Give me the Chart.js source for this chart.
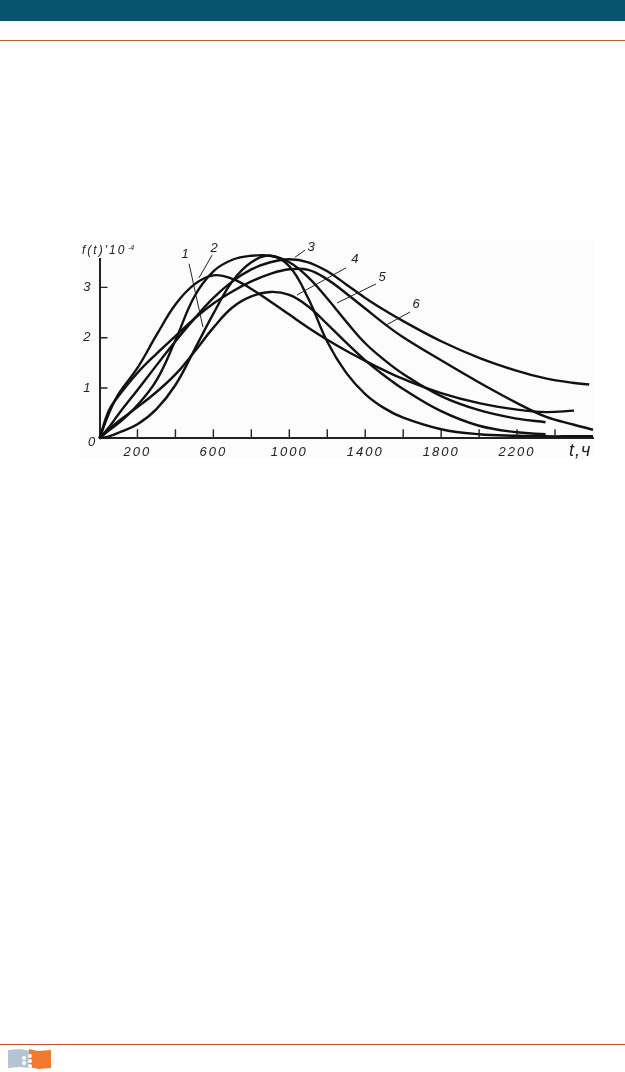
<!DOCTYPE html>
<html>
<head>
<meta charset="utf-8">
<title>f(t)</title>
<script src="https://cdn.jsdelivr.net/npm/chart.js@4/dist/chart.umd.min.js"></script>
<style>
  html, body { margin: 0; padding: 0; background: #fff; }
  #page { position: relative; width: 625px; height: 1072px; overflow: hidden; }
  #band { position: absolute; left: 0; top: 0; width: 625px; height: 21px; background: #07546f; }
  #ruleTop { position: absolute; left: 0; top: 40px; width: 625px; height: 1px; background: #b5603a; }
  #ruleBottom { position: absolute; left: 0; top: 1044px; width: 625px; height: 1px; background: #c8562a; }
  #figure { position: absolute; left: 80px; top: 240px; width: 520px; height: 225px; }
  #paper { position: absolute; left: 80px; top: 240px; width: 513px; height: 218px; background: #fcfcfc; }
  #logo { position: absolute; left: 8px; top: 1048px; }
</style>
</head>
<body>
<div id="page">
  <div id="band"></div>
  <div id="ruleTop"></div>
  <div id="paper"></div>
  <div id="figure"><canvas id="curves"></canvas></div>
  <div id="ruleBottom"></div>
  <svg id="logo" width="44" height="24" viewBox="0 0 44 24">
    <polygon points="0,2 12,1 22,3 22,20 12,19 0,20" fill="#b4c4d2"/>
    <polygon points="21,1 30,3 43,2 43,20 31,21 21,19" fill="#f07a30"/>
    <g fill="#fff">
      <circle cx="16" cy="10" r="2"/><circle cx="16" cy="15" r="2"/>
      <circle cx="22" cy="8" r="2"/><circle cx="22" cy="13" r="2"/><circle cx="22" cy="18" r="2"/>
    </g>
  </svg>
</div>

<script>
// время наработки, ч
var hours = [0, 50, 100, 200, 300, 400, 500, 600, 700, 800, 900, 1000, 1100, 1200, 1300, 1400, 1500, 1600, 1800, 2000, 2200, 2350, 2500, 2580, 2600];

// кривые, значения f(t)*10^-4
var curveEarly  = [0, .50, .88, 1.40, 2.05, 2.66, 3.06, 3.24, 3.17, 2.97, 2.72, 2.46, 2.20, 1.96, 1.74, 1.54, 1.35, 1.18, .90, .70, .57, .52, .55, null, null];
var curveNarrow = [0, .04, .11, .28, .58, 1.06, 1.76, 2.48, 3.12, 3.50, 3.63, 3.42, 2.78, 1.92, 1.30, .88, .60, .41, .18, .08, .05, .04, .04, .04, .04];
var curveTall   = [0, .16, .30, .66, 1.15, 1.95, 2.82, 3.32, 3.55, 3.63, 3.63, 3.50, 3.20, 2.78, 2.32, 1.89, 1.56, 1.28, .84, .56, .39, .32, null, null, null];
var curveHigh   = [0, .22, .48, .96, 1.45, 1.93, 2.38, 2.79, 3.12, 3.36, 3.50, 3.56, 3.50, 3.32, 3.06, 2.79, 2.55, 2.33, 1.93, 1.60, 1.34, 1.19, 1.10, 1.07, null];
var curveMiddle = [0, .56, .84, 1.30, 1.68, 2.03, 2.38, 2.68, 2.92, 3.12, 3.27, 3.36, 3.35, 3.16, 2.88, 2.58, 2.28, 2.01, 1.55, 1.11, .70, .43, .27, .19, .17];
var curveLow    = [0, .18, .34, .62, .92, 1.27, 1.72, 2.20, 2.60, 2.82, 2.91, 2.85, 2.62, 2.27, 1.90, 1.55, 1.25, .98, .54, .25, .12, .08, null, null, null];
var allCurves = [curveEarly, curveNarrow, curveTall, curveHigh, curveMiddle, curveLow];

var xLabelled = [200, 600, 1000, 1400, 1800, 2200];
var yLabelled = [1, 2, 3];

// выноски: номер кривой, начало и конец линии, место цифры (t, f)
var leaders = [
  { text: '1', from: [472, 3.47], to: [545, 2.21], at: [456, 3.66] },
  { text: '2', from: [593, 3.64], to: [524, 3.19], at: [609, 3.78] },
  { text: '3', from: [1083, 3.74], to: [1030, 3.60], at: [1120, 3.80] },
  { text: '4', from: [1299, 3.39], to: [1041, 2.85], at: [1351, 3.56] },
  { text: '5', from: [1457, 3.07], to: [1251, 2.69], at: [1494, 3.19] },
  { text: '6', from: [1636, 2.51], to: [1509, 2.25], at: [1673, 2.67] }
];

var inkColor = '#222';
var labelFont = 'italic 13px "Liberation Sans", Arial, sans-serif';

function toPoints(values) {
  var pts = [];
  for (var i = 0; i < hours.length; i++) {
    if (values[i] !== null) pts.push({ x: hours[i], y: values[i] });
  }
  return pts;
}

var figurePlugin = {
  id: 'figure',
  beforeDraw: function (chart) {
    chart.ctx.letterSpacing = '2px';
  },
  afterDraw: function (chart) {
    var ctx = chart.ctx, xs = chart.scales.x, ys = chart.scales.y;
    var x0 = xs.getPixelForValue(0), y0 = ys.getPixelForValue(0);
    ctx.save();
    ctx.strokeStyle = inkColor;

    // засечки внутрь поля графика
    ctx.lineWidth = 1.4;
    ctx.beginPath();
    xs.ticks.forEach(function (t) {
      if (t.value === 0 || t.value === 2600) return;
      var px = xs.getPixelForValue(t.value);
      ctx.moveTo(px, y0);
      ctx.lineTo(px, y0 - 9);
    });
    yLabelled.forEach(function (v) {
      var py = ys.getPixelForValue(v);
      ctx.moveTo(x0, py);
      ctx.lineTo(x0 + 8, py);
    });
    ctx.stroke();

    // выноски и номера кривых
    ctx.lineWidth = 1;
    ctx.fillStyle = inkColor;
    ctx.font = labelFont;
    ctx.textAlign = 'center';
    ctx.textBaseline = 'middle';
    leaders.forEach(function (l) {
      ctx.beginPath();
      ctx.moveTo(xs.getPixelForValue(l.from[0]), ys.getPixelForValue(l.from[1]));
      ctx.lineTo(xs.getPixelForValue(l.to[0]), ys.getPixelForValue(l.to[1]));
      ctx.stroke();
      ctx.fillText(l.text, xs.getPixelForValue(l.at[0]), ys.getPixelForValue(l.at[1]));
    });

    // подписи осей
    ctx.fillText('0', x0 - 7, y0 + 4);
    ctx.textAlign = 'left';
    ctx.font = 'italic 12px "Liberation Sans", Arial, sans-serif';
    ctx.fillText("f(t)'10", 2, 11);
    ctx.font = 'italic 7px "Liberation Sans", Arial, sans-serif';
    ctx.letterSpacing = '0px';
    ctx.fillText('-4', 48, 8);
    ctx.font = 'italic 18px "Liberation Sans", Arial, sans-serif';
    ctx.letterSpacing = '1px';
    ctx.fillText('t,ч', 489, 211);
    ctx.restore();
  }
};

new Chart(document.getElementById('curves'), {
  type: 'line',
  data: {
    datasets: allCurves.map(function (values, i) {
      return {
        label: 'curve ' + (i + 1),
        data: toPoints(values),
        borderColor: '#111',
        borderWidth: 2.4,
        pointRadius: 0,
        tension: 0.4,
        fill: false,
        clip: false
      };
    })
  },
  options: {
    responsive: true,
    maintainAspectRatio: false,
    animation: false,
    events: [],
    layout: { padding: { top: 19, right: 7, left: 0, bottom: 0 } },
    plugins: { legend: { display: false }, tooltip: { enabled: false }, title: { display: false } },
    scales: {
      x: {
        type: 'linear',
        min: 0,
        max: 2600,
        afterFit: function (scale) { scale.height = 26.7; },
        grid: { display: false, drawTicks: false },
        border: { display: true, color: inkColor, width: 2 },
        ticks: {
          stepSize: 200,
          autoSkip: false,
          maxRotation: 0,
          padding: 6,
          color: '#222',
          font: { family: '"Liberation Sans", Arial, sans-serif', size: 13, style: 'italic' },
          callback: function (v) { return xLabelled.indexOf(v) >= 0 ? String(v) : ''; }
        }
      },
      y: {
        type: 'linear',
        min: 0,
        max: 3.565,
        afterFit: function (scale) { scale.width = 19.5; },
        grid: { display: false, drawTicks: false },
        border: { display: true, color: inkColor, width: 2 },
        ticks: {
          stepSize: 1,
          padding: 7,
          color: '#222',
          font: { family: '"Liberation Sans", Arial, sans-serif', size: 13, style: 'italic' },
          callback: function (v) { return yLabelled.indexOf(v) >= 0 ? String(v) : ''; }
        }
      }
    }
  },
  plugins: [figurePlugin]
});
</script>
</body>
</html>
